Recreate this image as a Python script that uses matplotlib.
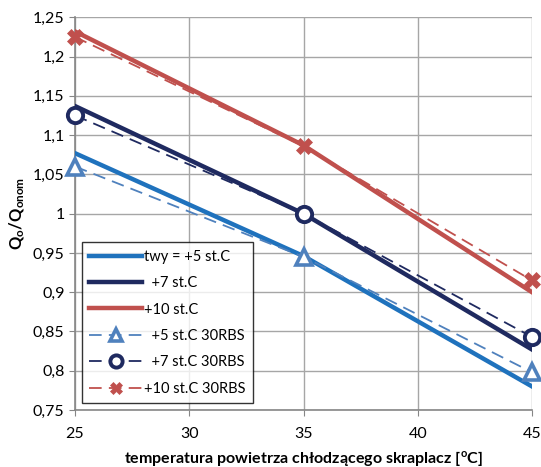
import matplotlib
matplotlib.use("Agg")
import matplotlib.pyplot as plt
from matplotlib.ticker import FuncFormatter

plt.rcParams['font.family'] = ['Lato', 'DejaVu Sans']

x = [25, 35, 45]

# solid lines (calculated)
calc_5 = [1.077, 0.946, 0.780]
calc_7 = [1.137, 1.000, 0.827]
calc_10 = [1.232, 1.087, 0.900]

# dashed lines with markers (30RBS)
rbs_5 = [1.060, 0.945, 0.798]
rbs_7 = [1.125, 1.000, 0.843]
rbs_10 = [1.225, 1.086, 0.915]

labels = ["twy = +5 st.C", "  +7 st.C", "+10 st.C",
          "  +5 st.C 30RBS", "  +7 st.C 30RBS", "+10 st.C 30RBS"]

c5 = "#1f72bd"
c5d = "#4f81bd"
c7 = "#1f2a60"
c10 = "#c0504d"

fig = plt.figure(figsize=(5.41, 4.67), dpi=100)
ax = fig.add_axes([75/541, 1 - 410/467, 457/541, (410 - 17.3)/467])

ax.plot(x, calc_5, color=c5, lw=3.2, label=labels[0], zorder=3)
ax.plot(x, calc_7, color=c7, lw=3.2, label=labels[1], zorder=3)
ax.plot(x, calc_10, color=c10, lw=3.2, label=labels[2], zorder=3)

ax.plot(x, rbs_5, color=c5d, lw=1.3, ls=(0, (7, 4)), marker="^", ms=11,
        mfc="white", mec=c5d, mew=2.6, label=labels[3], zorder=4, clip_on=False)
ax.plot(x, rbs_7, color=c7, lw=1.3, ls=(0, (7, 4)), marker="o", ms=11,
        mfc="white", mec=c7, mew=2.8, label=labels[4], zorder=4, clip_on=False)
ax.plot(x, rbs_10, color=c10, lw=1.3, ls=(0, (7, 4)), marker="X", ms=11,
        mfc=c10, mec=c10, mew=0.5, label=labels[5], zorder=4, clip_on=False)

ax.set_xlim(25, 45)
ax.set_ylim(0.75, 1.25)
ax.set_xticks([25, 30, 35, 40, 45])
ax.set_yticks([0.75 + 0.05 * i for i in range(11)])

def comma(v, pos):
    s = ("%.2f" % v).rstrip("0").rstrip(".")
    return s.replace(".", ",")

ax.yaxis.set_major_formatter(FuncFormatter(comma))
ax.tick_params(labelsize=11.5, color="#868686", length=4, direction="out")
ax.tick_params(axis="x", pad=8)

ax.grid(True, color="#a6a6a6", lw=1.0)
ax.set_axisbelow(True)
for s in ["top", "right"]:
    ax.spines[s].set_visible(False)
for s in ["left", "bottom"]:
    ax.spines[s].set_color("#868686")
    ax.spines[s].set_linewidth(1.2)

ax.set_xlabel("temperatura powietrza chłodzącego skraplacz [$\\mathregular{^{o}}$C]",
              fontsize=11.5, fontweight="bold", labelpad=6)
ax.set_ylabel("Q$\\mathregular{_o}$/Q$\\mathregular{_{onom}}$",
              fontsize=12, fontweight="bold", labelpad=4)

leg = ax.legend(loc="lower left", bbox_to_anchor=(7/457, 7/392.7), borderaxespad=0,
                fontsize=10.5, frameon=True, fancybox=False, edgecolor="black",
                handlelength=3.6, borderpad=0.5, labelspacing=0.85,
                handletextpad=0.15, markerscale=0.8)
leg.get_frame().set_linewidth(1.0)

fig.savefig("out.png", dpi=100)
